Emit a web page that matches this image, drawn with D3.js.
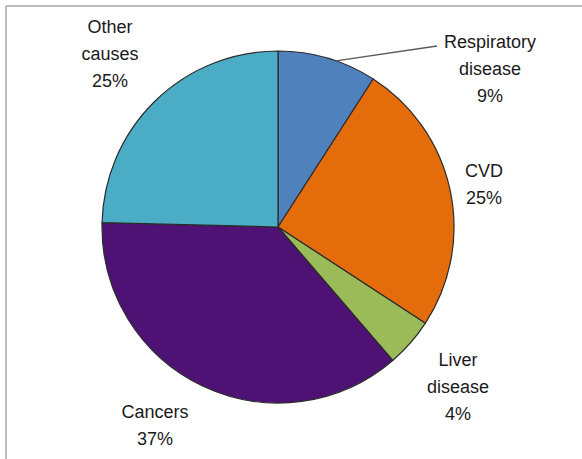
<!DOCTYPE html>
<html>
<head>
<meta charset="utf-8">
<script src="https://cdn.jsdelivr.net/npm/d3@7"></script>
<style>
  html, body { margin: 0; padding: 0; background: #fff; }
  svg { display: block; }
</style>
</head>
<body>
<svg id="chart" width="582" height="459"></svg>
<script>
const categories = ["Respiratory disease", "CVD", "Liver disease", "Cancers", "Other causes"];
// slice sizes (labels show rounded percentages)
const values = [9.1, 25.1, 4.5, 36.7, 24.6];
const labelLines = [["Respiratory", "disease", "9%"], ["CVD", "25%"], ["Liver", "disease", "4%"], ["Cancers", "37%"], ["Other", "causes", "25%"]];
const colors = ["#4F81BD", "#E46C0A", "#9BBB59", "#4E1274", "#4BACC6"];

// layout (label anchor centres, first-line y)
const labelPos = [[490, 48], [484, 177], [458, 366], [155, 418], [110, 33]];

const svg = d3.select("#chart");
const W = 582, H = 459;
const cx = 278, cy = 227, R = 176;

// frame lines
svg.append("line").attr("x1", 6).attr("y1", 6).attr("x2", W).attr("y2", 6)
  .attr("stroke", "#a6a6a6").attr("stroke-width", 1.5);
svg.append("line").attr("x1", 6).attr("y1", 6).attr("x2", 6).attr("y2", H)
  .attr("stroke", "#a6a6a6").attr("stroke-width", 1.5);

const pie = d3.pie().sort(null).value(d => d)(values);
const arc = d3.arc().innerRadius(0).outerRadius(R);

const g = svg.append("g").attr("transform", `translate(${cx},${cy})`);
g.selectAll("path").data(pie).join("path")
  .attr("d", arc)
  .attr("fill", (d, i) => colors[i])
  .attr("stroke", "#2b2b2b")
  .attr("stroke-width", 1.2)
  .attr("stroke-linejoin", "round");

// leader line for Respiratory disease
const a0 = (pie[0].startAngle + pie[0].endAngle) / 2 + 0.05;
const px = cx + R * Math.sin(a0), py = cy - R * Math.cos(a0);
svg.append("line")
  .attr("x1", px).attr("y1", py)
  .attr("x2", 437).attr("y2", 46)
  .attr("stroke", "#595959").attr("stroke-width", 1.3);

const lh = 27;
labelLines.forEach((lines, i) => {
  const t = svg.append("text")
    .attr("text-anchor", "middle")
    .attr("font-family", "Liberation Sans, Arial, sans-serif")
    .attr("font-size", 18)
    .attr("fill", "#1a1a1a");
  lines.forEach((s, j) => {
    t.append("tspan").attr("x", labelPos[i][0]).attr("y", labelPos[i][1] + j * lh).text(s);
  });
});
</script>
</body>
</html>
